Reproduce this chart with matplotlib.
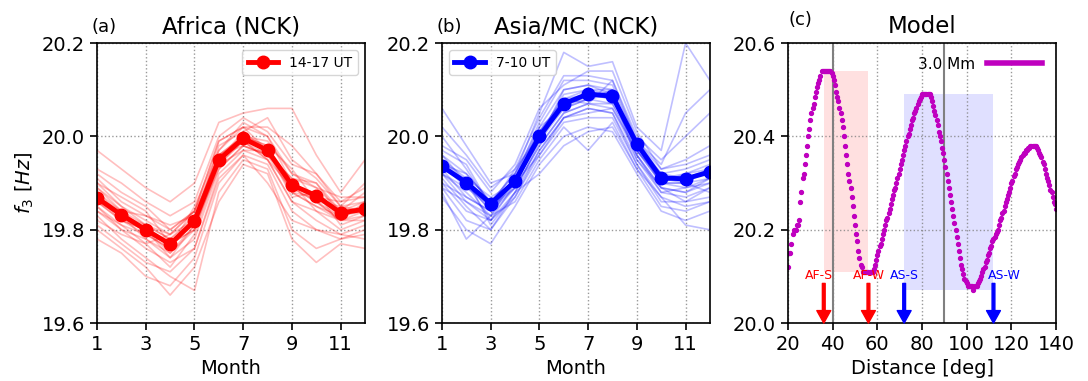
import matplotlib
matplotlib.use("Agg")
import matplotlib.pyplot as plt
import numpy as np
from matplotlib.lines import Line2D

# ---- panel (a): Africa, 14-17 UT ----
months = np.arange(1, 13)
africa_mean = [19.868, 19.832, 19.800, 19.769, 19.819, 19.950,
               19.996, 19.970, 19.896, 19.873, 19.836, 19.844]
africa_lines = [
    [19.97, 19.93, 19.89, 19.86, 19.90, 20.03, 20.05, 20.06, 20.06, 19.96, 19.88, 19.95],
    [19.92, 19.88, 19.85, 19.80, 19.84, 19.99, 20.02, 20.02, 19.98, 19.92, 19.85, 19.90],
    [19.90, 19.85, 19.82, 19.79, 19.82, 19.97, 20.03, 20.00, 19.92, 19.89, 19.84, 19.88],
    [19.88, 19.84, 19.83, 19.80, 19.84, 19.96, 20.00, 19.98, 19.88, 19.87, 19.86, 19.87],
    [19.86, 19.83, 19.78, 19.74, 19.78, 19.93, 19.98, 19.96, 19.90, 19.86, 19.82, 19.84],
    [19.85, 19.80, 19.76, 19.73, 19.76, 19.92, 19.97, 19.95, 19.86, 19.84, 19.80, 19.82],
    [19.83, 19.78, 19.74, 19.70, 19.67, 19.88, 19.95, 19.93, 19.80, 19.76, 19.78, 19.80],
    [19.80, 19.76, 19.72, 19.66, 19.72, 19.86, 19.94, 19.92, 19.78, 19.73, 19.77, 19.76],
    [19.78, 19.75, 19.70, 19.68, 19.74, 19.90, 19.96, 19.90, 19.82, 19.80, 19.79, 19.78],
    [19.90, 19.87, 19.84, 19.77, 19.80, 19.96, 20.00, 19.99, 19.92, 19.90, 19.84, 19.86],
    [19.87, 19.82, 19.80, 19.75, 19.80, 19.94, 19.99, 19.97, 19.89, 19.86, 19.83, 19.85],
    [19.84, 19.81, 19.79, 19.76, 19.82, 19.95, 20.01, 19.97, 19.87, 19.88, 19.81, 19.83],
    [19.93, 19.90, 19.86, 19.83, 19.86, 20.00, 20.04, 20.01, 19.94, 19.92, 19.86, 19.89],
    [19.82, 19.79, 19.77, 19.72, 19.79, 19.94, 19.99, 19.95, 19.86, 19.82, 19.79, 19.81],
    [19.89, 19.84, 19.81, 19.78, 19.82, 19.98, 20.01, 20.04, 19.95, 19.91, 19.85, 19.86],
    [19.86, 19.82, 19.79, 19.76, 19.85, 19.97, 20.02, 19.97, 19.88, 19.85, 19.83, 19.84],
    [19.91, 19.86, 19.83, 19.81, 19.83, 19.96, 19.99, 19.96, 19.91, 19.89, 19.87, 19.87],
    [19.81, 19.77, 19.73, 19.71, 19.76, 19.91, 19.96, 19.94, 19.84, 19.80, 19.78, 19.79],
    [19.88, 19.83, 19.81, 19.79, 19.84, 19.99, 20.02, 20.00, 19.90, 19.87, 19.84, 19.85],
    [19.84, 19.80, 19.78, 19.75, 19.81, 19.93, 19.98, 19.96, 19.88, 19.85, 19.82, 19.82],
    [19.87, 19.84, 19.80, 19.77, 19.80, 19.95, 20.00, 19.98, 19.93, 19.86, 19.82, 19.86],
    [19.89, 19.85, 19.81, 19.78, 19.83, 19.96, 19.98, 19.96, 19.91, 19.90, 19.83, 19.85],
    [19.86, 19.82, 19.80, 19.74, 19.81, 19.95, 19.99, 19.95, 19.89, 19.86, 19.85, 19.84],
    [19.85, 19.81, 19.77, 19.79, 19.84, 19.94, 19.97, 19.97, 19.90, 19.84, 19.82, 19.83],
]

# ---- panel (b): Asia/MC, 7-10 UT ----
asia_mean = [19.936, 19.901, 19.856, 19.904, 20.000, 20.070,
             20.091, 20.086, 19.984, 19.911, 19.909, 19.924]
asia_lines = [
    [20.06, 19.98, 19.90, 19.92, 20.05, 20.18, 20.15, 20.16, 20.02, 19.97, 20.20, 20.12],
    [20.02, 19.96, 19.89, 19.93, 20.04, 20.13, 20.13, 20.12, 20.00, 19.95, 20.00, 20.05],
    [19.98, 19.95, 19.88, 19.94, 20.06, 20.11, 20.14, 20.14, 20.01, 19.93, 19.95, 19.98],
    [19.96, 19.92, 19.86, 19.90, 20.02, 20.10, 20.11, 20.10, 19.99, 19.92, 19.93, 19.95],
    [19.95, 19.90, 19.84, 19.91, 20.00, 20.08, 20.10, 20.09, 19.98, 19.90, 19.92, 19.94],
    [19.94, 19.89, 19.86, 19.92, 20.01, 20.07, 20.09, 20.08, 19.97, 19.91, 19.90, 19.93],
    [19.93, 19.87, 19.84, 19.90, 19.99, 20.06, 20.08, 20.07, 19.98, 19.90, 19.89, 19.91],
    [19.92, 19.86, 19.83, 19.89, 19.98, 20.05, 20.07, 20.06, 19.96, 19.89, 19.88, 19.90],
    [19.90, 19.84, 19.82, 19.88, 19.97, 20.04, 20.06, 20.05, 19.95, 19.88, 19.87, 19.89],
    [19.89, 19.82, 19.80, 19.87, 19.96, 20.03, 20.04, 20.04, 19.94, 19.86, 19.86, 19.87],
    [19.88, 19.78, 19.83, 19.86, 19.95, 20.02, 19.97, 20.03, 19.93, 19.85, 19.84, 19.86],
    [19.87, 19.80, 19.77, 19.85, 19.94, 20.00, 20.02, 20.01, 19.92, 19.84, 19.82, 19.84],
    [19.91, 19.85, 19.80, 19.88, 19.92, 19.98, 20.01, 20.02, 19.93, 19.87, 19.81, 19.80],
    [19.97, 19.94, 19.85, 19.91, 20.03, 20.12, 20.12, 20.11, 19.99, 19.93, 19.94, 19.96],
    [19.93, 19.91, 19.87, 19.90, 20.00, 20.09, 20.10, 20.10, 19.97, 19.91, 19.91, 19.92],
    [19.92, 19.88, 19.83, 19.91, 19.99, 20.07, 20.08, 20.09, 19.96, 19.89, 19.88, 19.91],
    [20.00, 19.93, 19.85, 19.89, 20.01, 20.08, 20.07, 20.12, 19.99, 19.94, 20.05, 20.10],
    [19.96, 19.90, 19.82, 19.87, 19.97, 20.04, 20.05, 20.06, 19.97, 19.90, 19.90, 19.88],
    [19.94, 19.92, 19.86, 19.92, 20.02, 20.06, 20.09, 20.08, 19.98, 19.92, 19.91, 19.93],
    [19.90, 19.87, 19.84, 19.89, 19.98, 20.05, 20.07, 20.07, 19.96, 19.88, 19.89, 19.90],
    [19.95, 19.91, 19.81, 19.88, 19.99, 20.10, 20.11, 20.09, 19.95, 19.89, 19.86, 19.89],
    [19.92, 19.89, 19.85, 19.93, 20.00, 20.06, 20.08, 20.10, 19.97, 19.90, 19.90, 19.91],
    [19.89, 19.86, 19.82, 19.90, 19.96, 20.04, 20.06, 20.05, 19.94, 19.87, 19.85, 19.86],
    [19.94, 19.90, 19.84, 19.91, 20.01, 20.08, 20.09, 20.09, 19.98, 19.91, 19.92, 19.93],
]

# ---- panel (c): model f3 vs distance (0.5 deg steps, 20..140) ----
distance = np.arange(20.0, 140.01, 0.5)
model_f3 = [
    # 20 - 29.5
    20.12, 20.15, 20.15, 20.17, 20.19, 20.20, 20.20, 20.20, 20.21, 20.21,
    20.22, 20.26, 20.28, 20.31, 20.32, 20.34, 20.36, 20.38, 20.40, 20.415,
    # 30 - 39.5
    20.435, 20.45, 20.46, 20.47, 20.485, 20.495, 20.505, 20.515, 20.52, 20.53,
    20.54, 20.54, 20.54, 20.54, 20.54, 20.54, 20.54, 20.54, 20.54, 20.535,
    # 40 - 49.5
    20.53, 20.52, 20.51, 20.495, 20.485, 20.475, 20.46, 20.45, 20.435, 20.42,
    20.40, 20.38, 20.36, 20.34, 20.32, 20.305, 20.29, 20.27, 20.25, 20.23,
    # 50 - 59.5
    20.21, 20.19, 20.175, 20.155, 20.14, 20.125, 20.12, 20.11, 20.11, 20.11,
    20.11, 20.11, 20.11, 20.11, 20.11, 20.11, 20.11, 20.115, 20.125, 20.135,
    # 60 - 69.5
    20.145, 20.155, 20.165, 20.17, 20.18, 20.19, 20.20, 20.21, 20.22, 20.225,
    20.235, 20.245, 20.255, 20.265, 20.275, 20.285, 20.29, 20.30, 20.31, 20.32,
    # 70 - 79.5
    20.33, 20.34, 20.35, 20.36, 20.37, 20.38, 20.39, 20.40, 20.405, 20.415,
    20.425, 20.435, 20.44, 20.45, 20.455, 20.46, 20.47, 20.475, 20.48, 20.485,
    # 80 - 89.5
    20.49, 20.49, 20.49, 20.49, 20.49, 20.49, 20.49, 20.49, 20.485, 20.475,
    20.465, 20.455, 20.445, 20.435, 20.425, 20.41, 20.40, 20.39, 20.375, 20.365,
    # 90 - 99.5
    20.35, 20.335, 20.32, 20.305, 20.29, 20.275, 20.26, 20.245, 20.23, 20.215,
    20.20, 20.185, 20.17, 20.155, 20.14, 20.125, 20.115, 20.105, 20.095, 20.09,
    # 100 - 109.5
    20.085, 20.08, 20.08, 20.08, 20.08, 20.08, 20.07, 20.08, 20.08, 20.08,
    20.085, 20.09, 20.095, 20.10, 20.11, 20.115, 20.12, 20.13, 20.135, 20.145,
    # 110 - 119.5
    20.15, 20.16, 20.165, 20.175, 20.18, 20.185, 20.19, 20.195, 20.20, 20.21,
    20.22, 20.225, 20.235, 20.24, 20.25, 20.26, 20.265, 20.275, 20.28, 20.29,
    # 120 - 129.5
    20.30, 20.305, 20.315, 20.32, 20.33, 20.335, 20.34, 20.345, 20.35, 20.355,
    20.36, 20.365, 20.365, 20.37, 20.37, 20.375, 20.375, 20.38, 20.38, 20.38,
    # 130 - 140
    20.38, 20.38, 20.38, 20.375, 20.37, 20.365, 20.36, 20.355, 20.345, 20.34,
    20.33, 20.32, 20.31, 20.305, 20.295, 20.285, 20.28, 20.27, 20.26, 20.255,
    20.245,
]

# sites marked on panel (c): label, distance, colour
site_labels = ["AF-S", "AF-W", "AS-S", "AS-W"]
site_dist = [36, 56, 72, 112]
site_colors = ["red", "red", "blue", "blue"]
label_x = [34, 56, 72, 117]

# shaded ranges (x0, x1, y0, y1)
af_box = (36, 56, 20.11, 20.54)
as_box = (72, 112, 20.07, 20.49)
vlines = [40, 90]

fig = plt.figure(figsize=(10.88, 3.81), dpi=100)
ax_a = fig.add_axes([0.0892, 0.152, 0.2463, 0.735])
ax_b = fig.add_axes([0.4062, 0.152, 0.2463, 0.735])
ax_c = fig.add_axes([0.7243, 0.152, 0.2463, 0.735])


def style_axes(ax):
    ax.grid(True, linestyle=":", color="gray", linewidth=1.0, alpha=0.8)
    ax.tick_params(labelsize=14, length=5, width=1.2, direction="out")
    for sp in ax.spines.values():
        sp.set_linewidth(1.2)


def month_panel(ax, lines, mean, color, label, tag, title, legend_loc):
    for ln in lines:
        ax.plot(months, ln, color=color, alpha=0.25, lw=1.2)
    ax.plot(months, mean, color=color, lw=3.5, marker="o", ms=9, label=label)
    ax.set_xlim(1, 12)
    ax.set_ylim(19.6, 20.2)
    ax.set_xticks([1, 3, 5, 7, 9, 11])
    ax.set_yticks([19.6, 19.8, 20.0, 20.2])
    ax.set_xlabel("Month", fontsize=14)
    ax.set_title(title, fontsize=16.5, pad=7)
    ax.text(-0.02, 1.025, tag, transform=ax.transAxes, fontsize=13,
            ha="left", va="bottom")
    ax.legend(loc=legend_loc, fontsize=10, handlelength=2.2)
    style_axes(ax)


month_panel(ax_a, africa_lines, africa_mean, "red", "14-17 UT", "(a)",
            "Africa (NCK)", "upper right")
ax_a.set_ylabel("$f_3$ [$Hz$]", fontsize=14)
month_panel(ax_b, asia_lines, asia_mean, "blue", "7-10 UT", "(b)",
            "Asia/MC (NCK)", "upper left")

# ---- panel (c)
ax = ax_c
for x0, x1, y0, y1, c in [(*af_box, "red"), (*as_box, "blue")]:
    ax.fill_between([x0, x1], [y0, y0], [y1, y1], color=c, alpha=0.12, lw=0)
for v in vlines:
    ax.axvline(v, color="gray", lw=1.5)
ax.plot(distance, model_f3, linestyle="none", marker="o", ms=2.8, color="m")
for lab, d, c, lx in zip(site_labels, site_dist, site_colors, label_x):
    ax.annotate("", xy=(d, 20.0), xytext=(d, 20.085),
                arrowprops=dict(color=c, width=2, headwidth=10, headlength=9,
                                shrink=0))
    ax.text(lx, 20.102, lab, color=c, fontsize=9, ha="center", va="center")
ax.set_xlim(20, 140)
ax.set_ylim(20.0, 20.6)
ax.set_xticks(np.arange(20, 141, 20))
ax.set_yticks([20.0, 20.2, 20.4, 20.6])
ax.set_xlabel("Distance [deg]", fontsize=14)
ax.set_title("Model", fontsize=16.5, pad=7)
ax.text(0.0, 1.05, "(c)", transform=ax.transAxes, fontsize=13,
        ha="left", va="bottom")
handle = Line2D([], [], color="m", lw=4)
ax.legend([handle], ["3.0 Mm"], loc="upper right", frameon=False,
          markerfirst=False, fontsize=11, handlelength=3.6)
style_axes(ax)

fig.savefig("out.png", dpi=100)
